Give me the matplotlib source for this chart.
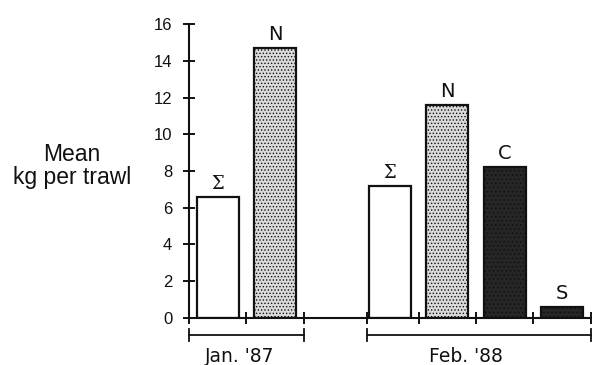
"""Mean catch per trawl, Jan. '87 vs Feb. '88, by sampling area."""

import matplotlib
matplotlib.use('Agg')
import matplotlib.pyplot as plt
from matplotlib.transforms import blended_transform_factory


# slot index along the axis (slot 2 is the empty gap between the months)
slots = [0, 1, 3, 4, 5, 6]
areas = ['Σ', 'N', 'Σ', 'N', 'C', 'S']
kg_per_trawl = [6.6, 14.7, 7.2, 11.6, 8.2, 0.6]

months = ["Jan. '87", "Feb. '88"]
month_spans = [(-0.5, 1.5), (2.6, 6.5)]
month_label_x = [0.38, 4.32]

y_ticks = [0, 2, 4, 6, 8, 10, 12, 14, 16]

styles = {
    'Σ': dict(facecolor='white', hatch=None),
    'N': dict(facecolor='#dadada', hatch='.....'),
    'C': dict(facecolor='#262626', hatch='....'),
    'S': dict(facecolor='#262626', hatch='....'),
}

plt.rcParams['font.family'] = ['Liberation Sans', 'DejaVu Sans']
plt.rcParams['hatch.color'] = '#8a8a8a'
plt.rcParams['hatch.linewidth'] = 0.6

fig = plt.figure(figsize=(5.92, 3.65), dpi=100)
ax = fig.add_axes([0.319, 0.129, 0.679, 0.805])

for x, area, val in zip(slots, areas, kg_per_trawl):
    st = styles[area]
    ax.bar(x, val, width=0.73, color=st['facecolor'], hatch=st['hatch'],
           edgecolor='#111111', linewidth=1.6, zorder=2)
    if area == 'Σ':
        lab_font = dict(family='DejaVu Serif', fontsize=13)
    else:
        lab_font = dict(family='DejaVu Sans', fontsize=14)
    ax.annotate(area, (x, val), xytext=(0, 3), textcoords='offset points',
                ha='center', va='bottom', color='#111111', **lab_font)

ax.set_xlim(-0.5, 6.5)
ax.set_ylim(0, 16)
ax.set_xticks([-0.5, 0.5, 1.5, 2.6, 3.5, 4.5, 5.5, 6.5])
ax.set_xticklabels([])
ax.set_yticks(y_ticks)
ax.tick_params(axis='y', direction='inout', length=8, width=1.4,
               labelsize=12, pad=8, colors='#111111')
ax.tick_params(axis='x', direction='inout', length=9, width=1.4,
               colors='#111111')

for side in ['top', 'right']:
    ax.spines[side].set_visible(False)
for side in ['left', 'bottom']:
    ax.spines[side].set_linewidth(1.5)
    ax.spines[side].set_color('#111111')

# month brackets under the axis
trans = blended_transform_factory(ax.transData, ax.transAxes)
for name, (x0, x1), lx in zip(months, month_spans, month_label_x):
    ax.plot([x0, x1], [-0.058, -0.058], transform=trans, color='#111111',
            lw=1.3, clip_on=False)
    for xe in (x0, x1):
        ax.plot([xe, xe], [-0.078, -0.038], transform=trans,
                color='#111111', lw=1.3, clip_on=False)
    ax.text(lx, -0.1, name, transform=trans, ha='center',
            va='top', fontsize=13.5, family='DejaVu Sans', color='#111111')

fig.text(0.122, 0.545, 'Mean\nkg per trawl', ha='center', va='center',
         fontsize=16.5, linespacing=1.0, color='#111111')

fig.savefig('out.png', dpi=100, facecolor='white')
